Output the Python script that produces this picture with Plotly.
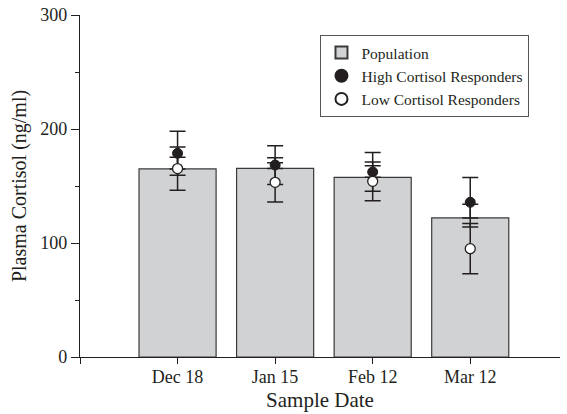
import plotly.graph_objects as go

categories = ["Dec 18", "Jan 15", "Feb 12", "Mar 12"]
population = [165, 165.4, 157.6, 122]
population_err = [10.2, 9.4, 10.2, 12]
high = [178.7, 168.4, 162.3, 135.7]
high_err = [19.3, 17, 17, 21.7]
low = [165.3, 153.2, 154.1, 95]
low_err = [19, 17.2, 17, 22]

xpos = list(range(len(categories)))
FONT = "Liberation Serif"
INK = "#231f20"

fig = go.Figure()
fig.add_trace(go.Bar(
    x=xpos, y=population, name="Population", width=0.79,
    marker=dict(color="#d1d2d4", line=dict(color="#3a3a3a", width=1.2)),
    error_y=dict(type="data", symmetric=False, array=population_err,
                 arrayminus=[0] * len(population), color=INK, thickness=1.5, width=8),
))
fig.add_trace(go.Scatter(
    x=xpos, y=high, name="High Cortisol Responders", mode="markers",
    marker=dict(symbol="circle", size=10, color=INK, line=dict(color=INK, width=1)),
    error_y=dict(type="data", array=high_err, color=INK, thickness=1.5, width=8),
))
fig.add_trace(go.Scatter(
    x=xpos, y=low, name="Low Cortisol Responders", mode="markers",
    marker=dict(symbol="circle", size=10, color="white", line=dict(color=INK, width=1.3)),
    error_y=dict(type="data", array=low_err, color=INK, thickness=1.5, width=8),
))

fig.update_layout(
    width=567, height=414,
    margin=dict(l=80, r=7, t=15, b=57),
    paper_bgcolor="white", plot_bgcolor="white",
    font=dict(family=FONT, color=INK, size=18),
    showlegend=True,
    legend=dict(x=0.501, y=0.9415, xanchor="left", yanchor="top",
                bgcolor="white", bordercolor="#555555", borderwidth=1,
                font=dict(family=FONT, size=15.5, color=INK),
                tracegroupgap=0, itemsizing="constant"),
    xaxis=dict(
        range=[-1, 3.92], tickmode="array",
        tickvals=[-1] + xpos, ticktext=[""] + categories,
        showline=True, linecolor=INK, linewidth=1.2,
        ticks="outside", ticklen=6, tickwidth=1.2, tickcolor=INK,
        ticklabelstandoff=-3, automargin=False,
        showgrid=False, zeroline=False,
        title=dict(text="Sample Date", font=dict(family=FONT, size=21), standoff=6),
        tickfont=dict(family=FONT, size=18),
    ),
    yaxis=dict(
        range=[0, 300], tickmode="array", tickvals=[0, 100, 200, 300],
        showline=True, linecolor=INK, linewidth=1.2,
        ticks="outside", ticklen=8, tickwidth=1.2, tickcolor=INK,
        ticklabeloverflow="allow", automargin=False,
        minor=dict(tickvals=[50, 150, 250], ticks="outside", ticklen=4,
                   tickwidth=1.2, tickcolor=INK),
        showgrid=False, zeroline=False,
        title=dict(text="Plasma Cortisol (ng/ml)", font=dict(family=FONT, size=20), standoff=8),
        tickfont=dict(family=FONT, size=18),
    ),
)

fig.write_html("out.html", config={"displayModeBar": False},
               post_script="document.body.style.margin='0px';")
